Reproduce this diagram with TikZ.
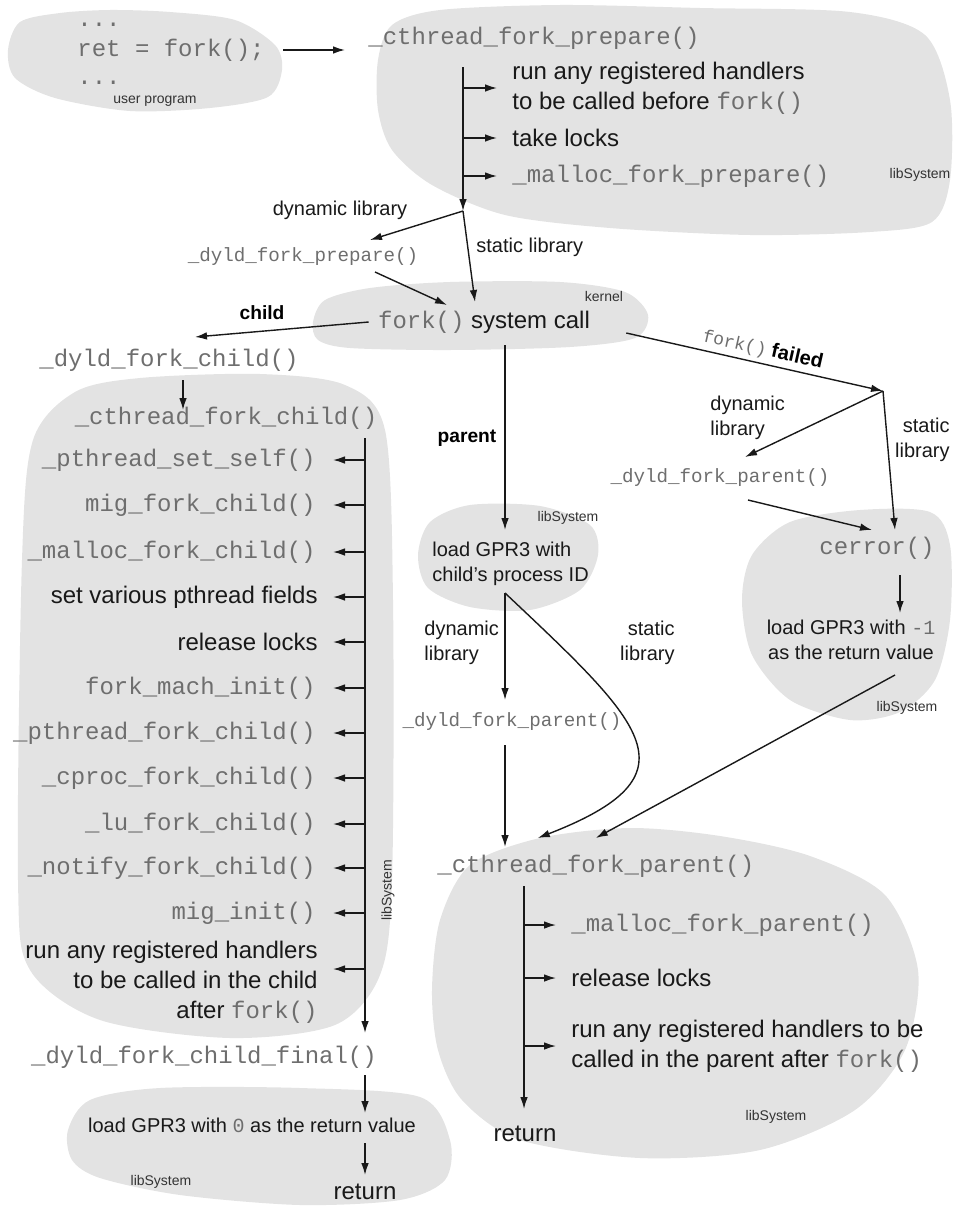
\documentclass[tikz,border=0pt]{standalone}
\usepackage{fontspec}
\setmainfont{Liberation Sans}
\setmonofont{Liberation Mono}
\usetikzlibrary{arrows.meta}
\definecolor{blobgrey}{RGB}{227,227,227}
\definecolor{codegrey}{RGB}{110,110,110}
\newcommand{\cfn}[1]{{\ttfamily\mdseries\color{codegrey}#1}}
\tikzset{
  blob/.style={fill=blobgrey},
  arr/.style={draw=black!90, line width=0.7pt, -{Latex[length=6pt,width=3.8pt]}},
  txt/.style={font=\fontsize{12}{15}\selectfont, inner sep=0pt, text=black!90},
  fn/.style={font=\fontsize{12}{15}\ttfamily, inner sep=0pt, text=codegrey},
  smallfn/.style={font=\fontsize{9.6}{12}\ttfamily, inner sep=0pt, text=codegrey},
  note/.style={font=\fontsize{10}{12.5}\selectfont, inner sep=0pt, text=black!90},
  branch/.style={font=\fontsize{9.6}{12}\bfseries, inner sep=0pt},
  tag/.style={font=\fontsize{7}{8}\selectfont, inner sep=0pt, text=black!80},
}

\begin{document}
\begin{tikzpicture}[x=0.5pt,y=-0.5pt]
	\useasboundingbox (0,0) rectangle (954,1215);

	% grey areas: user program, libSystem, kernel
	\fill[blob] plot[smooth cycle] coordinates {(8,50) (20,22) (60,13) (110,10) (170,12) (235,20) (275,45) (282,70) (268,97) (210,108) (130,111) (55,98) (15,78)};
	\fill[blob] plot[smooth cycle] coordinates {(378,60) (392,25) (440,10) (560,5) (700,8) (850,12) (925,35) (950,100) (950,180) (932,222) (870,232) (750,235) (610,228) (505,215) (432,185) (392,150) (378,110)};
	\fill[blob] plot[smooth cycle] coordinates {(313,322) (325,300) (370,288) (450,282) (560,282) (625,292) (648,315) (635,338) (570,347) (450,350) (350,348) (318,340)};
	\fill[blob] plot[smooth cycle] coordinates {(140,378) (260,374) (345,385) (385,430) (393,600) (392,880) (380,975) (335,1025) (230,1038) (100,1020) (30,970) (18,880) (22,560) (33,440) (75,392)};
	\fill[blob] plot[smooth cycle] coordinates {(418,555) (430,522) (470,505) (540,506) (590,525) (598,555) (580,590) (530,610) (470,607) (428,588)};
	\fill[blob] plot[smooth cycle] coordinates {(742,600) (752,555) (790,522) (860,510) (930,512) (950,545) (950,620) (935,680) (900,712) (850,720) (790,700) (752,655)};
	\fill[blob] plot[smooth cycle] coordinates {(432,990) (440,920) (470,865) (540,838) (630,828) (720,836) (810,856) (885,895) (918,970) (905,1050) (855,1110) (760,1150) (640,1158) (520,1140) (462,1100) (438,1050)};
	\fill[blob] plot[smooth cycle] coordinates {(68,1130) (90,1100) (160,1088) (300,1088) (420,1097) (450,1140) (445,1180) (400,1200) (300,1205) (180,1195) (100,1178) (72,1160)};

	% user program
	\node[fn, anchor=west] (dotsa) at (77,25) {...};
	\node[fn, anchor=west] (retfork) at (77,50) {ret = fork();};
	\node[fn, anchor=west] (dotsb) at (77,83) {...};
	\node[tag] (uprog) at (155,101) {user program};

	% before fork
	\node[fn, anchor=west] (prepare) at (368,38) {\_cthread\_fork\_prepare()};
	\node[txt, anchor=west, align=left] (hand) at (512,88) {run any registered handlers\\to be called before \cfn{fork()}};
	\node[txt, anchor=west] (locks) at (512,138) {take locks};
	\node[fn, anchor=west] (mfp) at (512,176) {\_malloc\_fork\_prepare()};
	\node[tag] (libtop) at (920,175) {libSystem};
	\node[note] (dynlib) at (340,210) {dynamic library};
	\node[smallfn] (dyldprep) at (303,257) {\_dyld\_fork\_prepare()};
	\node[note, anchor=west] (statlib) at (476,247) {static library};

	\coordinate (ptop) at (463,67);
	\coordinate (pjoin) at (463,211);

	\draw[arr, shorten <=9pt, shorten >=11.5pt] (retfork.east) -- (retfork.east -| prepare.west);
	\draw[arr] (ptop) -- (pjoin);
	\foreach \n in {hand,locks,mfp}
		\draw[arr] (ptop |- \n.west) -- ++(34,0);

	% system call
	\node[txt] (syscall) at (484,322) {\cfn{fork()} system call};
	\node[tag] (kern) at (604,296) {kernel};
	\draw[arr] (pjoin) -- ([xshift=33.5pt,yshift=8.5pt]dyldprep.center);
	\draw[arr] ([xshift=36pt,yshift=-7.5pt]dyldprep.center) -- ([xshift=-18.5pt,yshift=8.5pt]syscall.center);
	\draw[arr] (pjoin) -- ([xshift=-4.5pt,yshift=10pt]syscall.center);

	% child side
	\node[branch] (childlbl) at (262,313) {child};
	\node[fn] (dyldchild) at (169,360) {\_dyld\_fork\_child()};
	\node[fn] (cthreadchild) at (226,418) {\_cthread\_fork\_child()};
	\draw[arr] ([xshift=-4.5pt]syscall.west) -- ([xshift=13pt,yshift=11.5pt]dyldchild.center);
	\draw[arr] ([xshift=7pt,yshift=-10pt]dyldchild.center) -- ([xshift=-21.5pt,yshift=4pt]cthreadchild.center);

	\coordinate (ctop) at (365,438);
	\foreach \y/\n/\t in {460/pss/{\_pthread\_set\_self()}, 505/mfc/{mig\_fork\_child()},
		552/mlc/{\_malloc\_fork\_child()}, 688/fmi/{fork\_mach\_init()},
		733/ptfc/{\_pthread\_fork\_child()}, 778/cpfc/{\_cproc\_fork\_child()},
		824/lufc/{\_lu\_fork\_child()}, 868/nfc/{\_notify\_fork\_child()}, 913/mi/{mig\_init()}}
	{
		\node[fn, anchor=east] (\n) at (316,\y) {\t};
		\draw[arr] (ctop |- \n.east) -- ++(-32,0);
	}
	\node[txt, anchor=east] (pfields) at (318,597) {set various pthread fields};
	\node[txt, anchor=east] (rlockc) at (318,642) {release locks};
	\foreach \n in {pfields,rlockc}
		\draw[arr] (ctop |- \n.east) -- ++(-32,0);
	\node[txt, anchor=east, align=right] (runchild) at (318,982) {run any registered handlers\\to be called in the child\\after \cfn{fork()}};
	\draw[arr] (ctop |- 0,969) -- ++(-32,0);
	\node[tag, rotate=90] (libleft) at (388,890) {libSystem};

	\node[fn] (dyldfinal) at (204,1057) {\_dyld\_fork\_child\_final()};
	\node[note] (gpr0) at (252,1125) {load GPR3 with \cfn{0} as the return value};
	\node[txt] (ret0) at (365,1192) {return};
	\node[tag] (libbl) at (161,1182) {libSystem};
	\draw[arr, shorten >=12pt] (ctop) -- (ctop |- dyldfinal.center);
	\draw[arr, shorten <=9pt, shorten >=6pt] (ctop |- dyldfinal.center) -- (ctop |- gpr0.center);
	\draw[arr, shorten <=9pt, shorten >=8.5pt] (ctop |- gpr0.center) -- (ret0.center);

	% parent side
	\coordinate (ptrunk) at (505,345);
	\coordinate (pfork) at (505,593);
	\node[branch] (parlbl) at (467,438) {parent};
	\node[tag] (libgpr) at (568,518) {libSystem};
	\node[note, anchor=west, align=left] (gprpid) at (432,564) {load GPR3 with\\child's process ID};
	\node[note, anchor=west, align=left] (dynlibm) at (424,643) {dynamic\\library};
	\node[note, anchor=east, align=right] (statlibm) at (675,643) {static\\library};
	\node[smallfn] (dyldpar) at (512,722) {\_dyld\_fork\_parent()};
	\node[fn, anchor=west] (cthreadpar) at (437,866) {\_cthread\_fork\_parent()};
	\draw[arr] (ptrunk) -- ([yshift=17pt]ptrunk |- gprpid.center);
	\draw[arr, shorten >=11pt] (pfork) -- (pfork |- dyldpar.center);
	\draw[arr] (pfork) .. controls (645,725) and (700,775) .. ([xshift=-29pt,yshift=14pt]cthreadpar.center);
	\draw[arr, shorten <=11.5pt, shorten >=9.5pt] (ptrunk |- dyldpar.center) -- (ptrunk |- cthreadpar.center);

	% fork() failed
	\coordinate (fjoin) at (883,391);
	\draw[arr] ([xshift=18pt,yshift=-5.5pt]syscall.east) -- (fjoin)
		node[pos=0.52, sloped, above=2pt, font=\fontsize{10}{12}\bfseries, inner sep=0pt] (failedlbl) {{\fontsize{9}{10}\selectfont\cfn{fork()}} failed};
	\node[smallfn] (dyldparR) at (720,478) {\_dyld\_fork\_parent()};
	\node[note, anchor=west, align=left] (dynlibr) at (710,418) {dynamic\\library};
	\node[note, anchor=east, align=right] (statlibr) at (950,440) {static\\library};
	\node[fn] (cerror) at (877,548) {cerror()};
	\node[note, align=center] (gprm1) at (851,640) {load GPR3 with \cfn{-1}\\as the return value};
	\node[tag] (libcerr) at (907,708) {libSystem};
	\draw[arr] (fjoin) -- ([xshift=12.5pt,yshift=10.5pt]dyldparR.center);
	\draw[arr] (fjoin) -- ([xshift=9pt,yshift=9pt]cerror.center);
	\draw[arr] ([xshift=14pt,yshift=-11pt]dyldparR.center) -- ([xshift=-2.5pt,yshift=9pt]cerror.center);
	\draw[arr] ([xshift=11.5pt,yshift=-13.5pt]cerror.center) -- ([xshift=24.5pt,yshift=13.5pt]gprm1.center);
	\draw[arr] ([xshift=22pt,yshift=-17.5pt]gprm1.center) -- ([yshift=14pt]cthreadpar.center);

	% after fork in the parent
	\coordinate (rtop) at (524,886);
	\node[fn, anchor=west] (mfpar) at (571,925) {\_malloc\_fork\_parent()};
	\node[txt, anchor=west] (rlocks) at (571,978) {release locks};
	\node[txt, anchor=west, align=left] (runpar) at (571,1046) {run any registered handlers to be\\called in the parent after \cfn{fork()}};
	\node[txt] (ret1) at (525,1134) {return};
	\node[tag] (libbr) at (776,1117) {libSystem};
	\foreach \n in {mfpar,rlocks,runpar}
		\draw[arr] (rtop |- \n.west) -- ++(32,0);
	\draw[arr, shorten >=12.5pt] (rtop) -- (rtop |- ret1.center);

\end{tikzpicture}
\end{document}
